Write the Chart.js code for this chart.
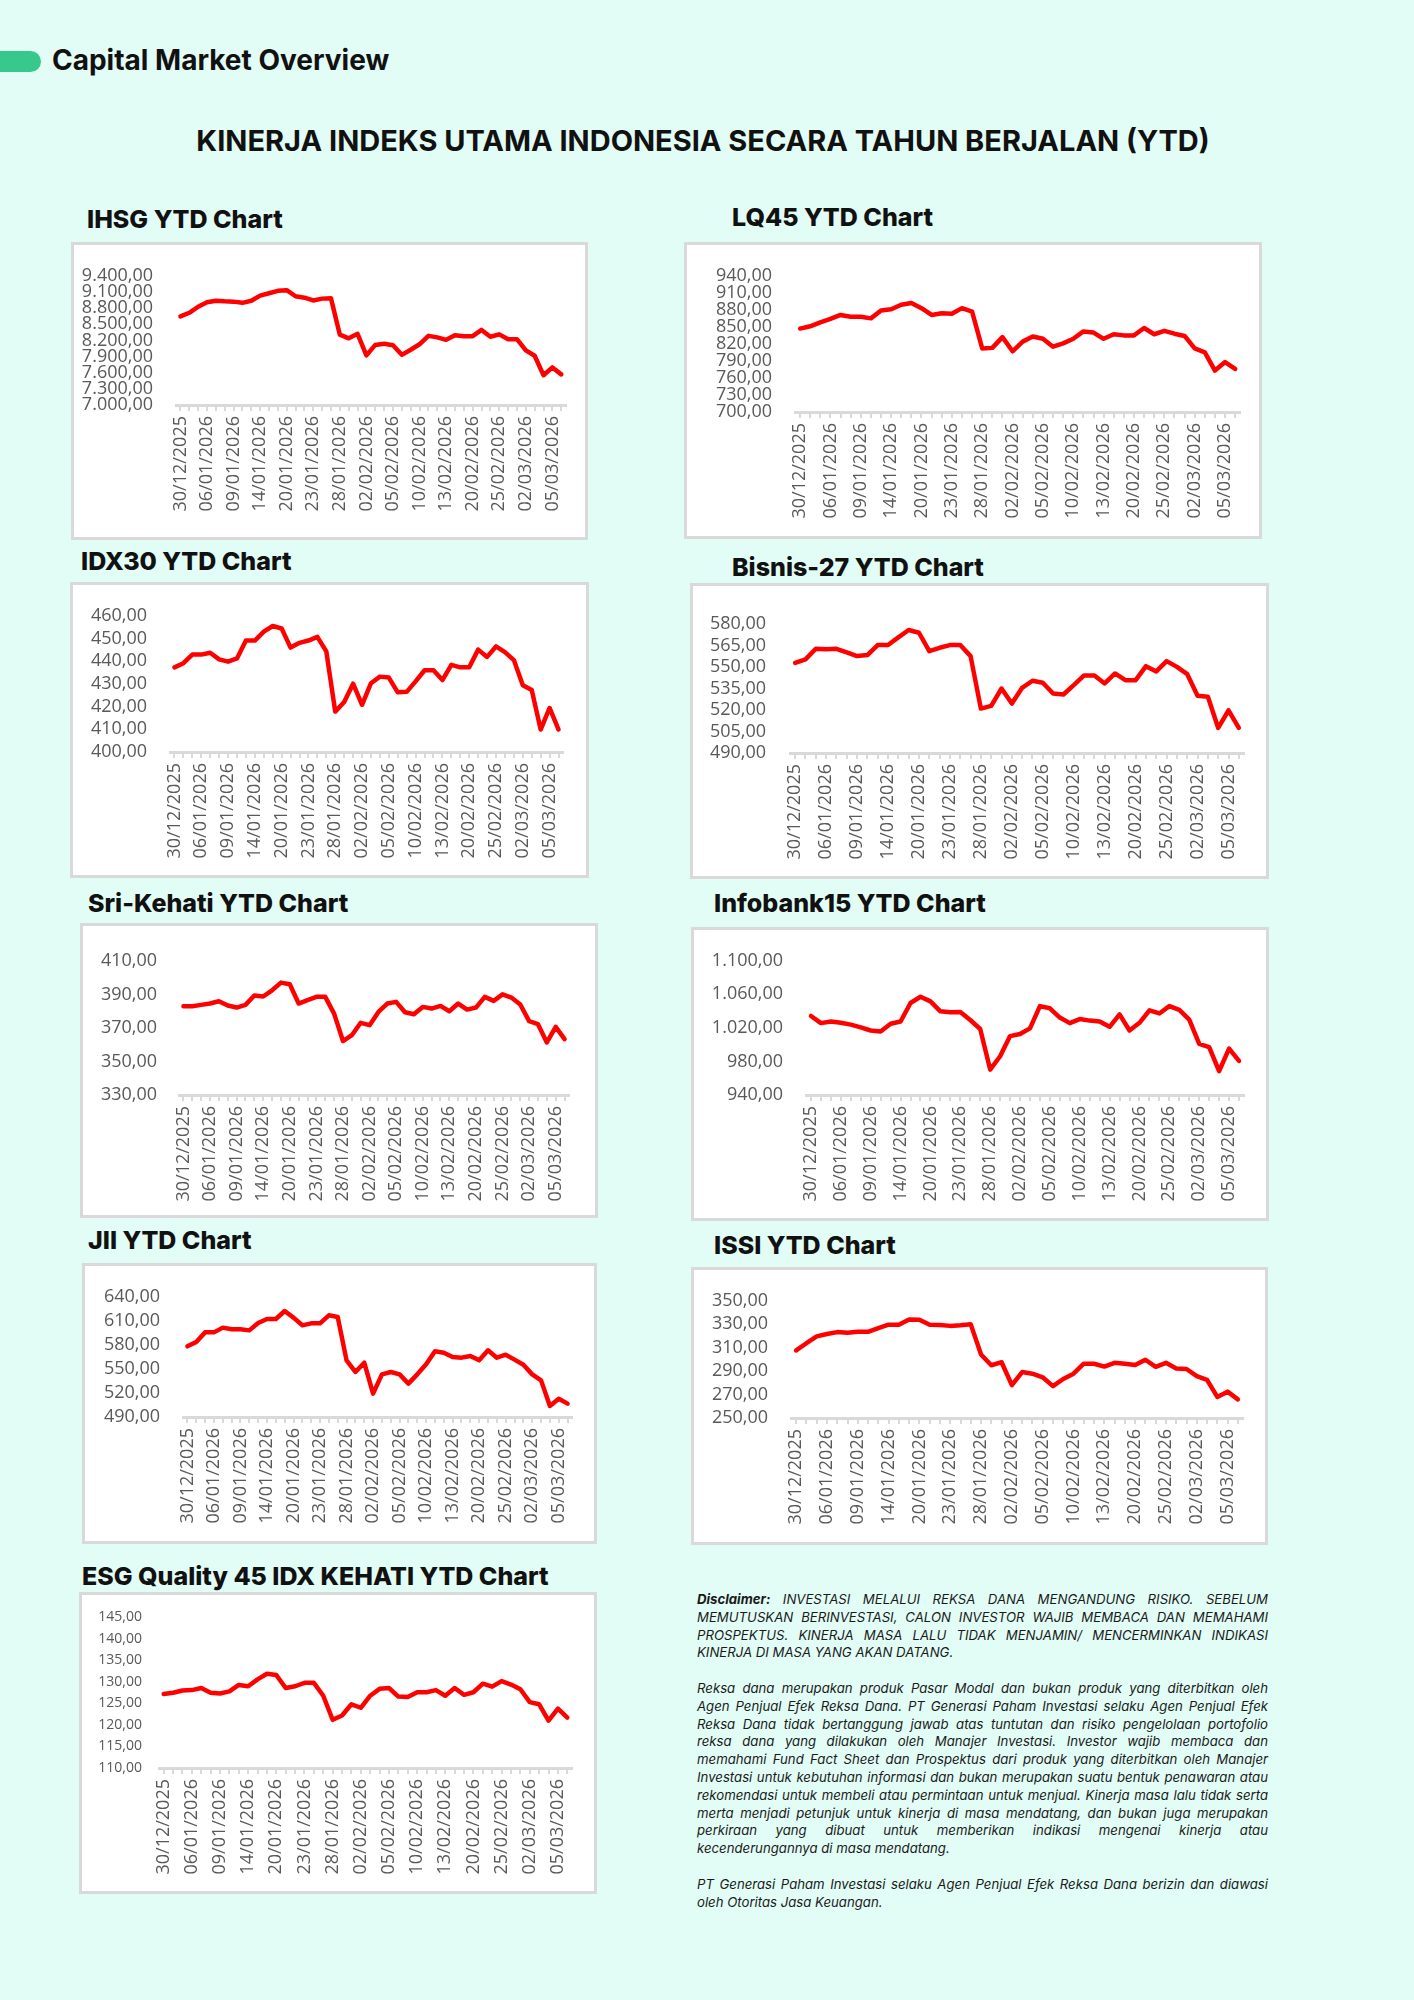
<!DOCTYPE html>
<html>
<head>
<meta charset="utf-8">
<script src="https://cdn.jsdelivr.net/npm/chart.js@4.4.1/dist/chart.umd.min.js"></script>
<style>
  html, body { margin: 0; padding: 0; }
  body { width: 1414px; height: 2000px; background: #e1fdf5; position: relative; overflow: hidden; font-family: Inter, "Noto Sans", sans-serif; color: #111; }
  .pill { position: absolute; left: 0; top: 51px; width: 41px; height: 21px; background: #36c98b; border-radius: 0 11px 11px 0; }
  .head { position: absolute; left: 52px; top: 46px; font-size: 28px; font-weight: 700; line-height: 28px; white-space: nowrap; }
  .main { position: absolute; left: 0; width: 1406px; top: 127px; text-align: center; font-size: 29px; font-weight: 700; line-height: 28px; white-space: nowrap; }
  .ptitle { position: absolute; font-size: 25px; font-weight: 800; line-height: 25px; white-space: nowrap; }
  .panel { position: absolute; box-sizing: border-box; background: #fff; border: 3px solid #d9d9d9; }
  .panel canvas { position: absolute; left: -3px; top: -3px; }
  .disc { position: absolute; left: 697px; top: 1591px; width: 571px; font-size: 13.2px; line-height: 17.8px; font-style: italic; color: #1a1a1a; }
  .disc div { white-space: nowrap; text-align: justify; text-align-last: justify; }
  .disc div.end { text-align-last: left; }
  .disc .gap { height: 17.8px; }
</style>
</head>
<body>
<div class="pill"></div>
<div class="head">Capital Market Overview</div>
<div class="main">KINERJA INDEKS UTAMA INDONESIA SECARA TAHUN BERJALAN (YTD)</div>

<div class="disc">
  <div><b>Disclaimer:</b> INVESTASI MELALUI REKSA DANA MENGANDUNG RISIKO. SEBELUM</div>
  <div>MEMUTUSKAN BERINVESTASI, CALON INVESTOR WAJIB MEMBACA DAN MEMAHAMI</div>
  <div>PROSPEKTUS. KINERJA MASA LALU TIDAK MENJAMIN/ MENCERMINKAN INDIKASI</div>
  <div class="end">KINERJA DI MASA YANG AKAN DATANG.</div>
  <div class="gap"></div>
  <div>Reksa dana merupakan produk Pasar Modal dan bukan produk yang diterbitkan oleh</div>
  <div>Agen Penjual Efek Reksa Dana. PT Generasi Paham Investasi selaku Agen Penjual Efek</div>
  <div>Reksa Dana tidak bertanggung jawab atas tuntutan dan risiko pengelolaan portofolio</div>
  <div>reksa dana yang dilakukan oleh Manajer Investasi. Investor wajib membaca dan</div>
  <div>memahami Fund Fact Sheet dan Prospektus dari produk yang diterbitkan oleh Manajer</div>
  <div>Investasi untuk kebutuhan informasi dan bukan merupakan suatu bentuk penawaran atau</div>
  <div>rekomendasi untuk membeli atau permintaan untuk menjual. Kinerja masa lalu tidak serta</div>
  <div>merta menjadi petunjuk untuk kinerja di masa mendatang, dan bukan juga merupakan</div>
  <div>perkiraan yang dibuat untuk memberikan indikasi mengenai kinerja atau</div>
  <div class="end">kecenderungannya di masa mendatang.</div>
  <div class="gap"></div>
  <div>PT Generasi Paham Investasi selaku Agen Penjual Efek Reksa Dana berizin dan diawasi</div>
  <div class="end">oleh Otoritas Jasa Keuangan.</div>
</div>

<script>
// tanggal perdagangan (hanya tiap label ke-3 yang tampil)
const dates = [
  "30/12/2025", "02/01/2026", "05/01/2026", "06/01/2026", "07/01/2026", "08/01/2026", "09/01/2026",
  "12/01/2026", "13/01/2026", "14/01/2026", "15/01/2026", "19/01/2026", "20/01/2026", "21/01/2026",
  "22/01/2026", "23/01/2026", "26/01/2026", "27/01/2026", "28/01/2026", "29/01/2026", "30/01/2026",
  "02/02/2026", "03/02/2026", "04/02/2026", "05/02/2026", "06/02/2026", "09/02/2026", "10/02/2026",
  "11/02/2026", "12/02/2026", "13/02/2026", "18/02/2026", "19/02/2026", "20/02/2026", "23/02/2026",
  "24/02/2026", "25/02/2026", "26/02/2026", "27/02/2026", "02/03/2026", "03/03/2026", "04/03/2026",
  "05/03/2026", "06/03/2026"
];

const ihsgValues = [8647, 8713, 8825, 8909, 8937, 8926, 8920, 8898, 8937, 9032, 9076, 9121, 9132, 9020, 8993,
  8942, 8976, 8981, 8306, 8239, 8323, 7921, 8116, 8139, 8111, 7932, 8027, 8128, 8284, 8256, 8211, 8295, 8278,
  8278, 8395, 8267, 8312, 8222, 8222, 8016, 7915, 7553, 7698, 7569];
const ihsgTicks = [7000, 7300, 7600, 7900, 8200, 8500, 8800, 9100, 9400];

const lq45Values = [847, 851, 858, 864, 871, 868, 868, 865, 879, 881, 889, 892, 883, 871, 874, 873, 883, 877,
  812, 813, 832, 807, 824, 833, 829, 815, 821, 829, 842, 840, 829, 837, 835, 835, 848, 837, 843, 838, 834,
  812, 805, 773, 788, 776];
const lq45Ticks = [700, 730, 760, 790, 820, 850, 880, 910, 940];

const idx30Values = [437.3, 439.1, 442.9, 442.9, 443.7, 440.8, 439.8, 441.2, 449.1, 449.1, 453.0, 455.5, 454.4,
  446.0, 448.1, 449.1, 450.7, 444.3, 417.8, 422.0, 430.1, 420.8, 430.3, 433.2, 432.8, 426.3, 426.5, 431.1,
  436.0, 436.0, 431.7, 438.4, 437.3, 437.3, 445.1, 441.9, 446.5, 444.0, 440.5, 429.4, 427.3, 409.9, 419.4, 409.9];
const idx30Ticks = [400, 410, 420, 430, 440, 450, 460];

const bisnis27Values = [552.9, 555.3, 562.7, 562.3, 562.7, 560.2, 557.6, 558.3, 565.3, 565.3, 570.7, 575.8, 573.9,
  561.1, 563.4, 565.3, 565.3, 557.6, 521.0, 522.9, 535.0, 524.5, 535.5, 540.4, 539.0, 531.5, 530.8, 537.3,
  544.1, 544.1, 538.5, 545.5, 540.8, 540.8, 550.6, 546.9, 554.1, 550.1, 545.0, 529.9, 529.2, 507.5, 519.8, 507.5];
const bisnis27Ticks = [490, 505, 520, 535, 550, 565, 580];

const sriKehatiValues = [383.0, 383.0, 383.8, 384.6, 386.0, 383.4, 382.2, 383.8, 389.4, 388.8, 392.5, 397.1, 396.1,
  384.6, 386.6, 388.6, 388.6, 378.6, 362.2, 365.7, 373.1, 371.7, 379.6, 384.6, 385.6, 379.4, 378.2, 382.6,
  381.6, 383.2, 380.0, 384.6, 381.0, 382.2, 388.6, 386.2, 390.1, 388.2, 384.0, 374.1, 372.3, 361.4, 370.7, 363.4];
const sriKehatiTicks = [330, 350, 370, 390, 410];

const infobank15Values = [1034.2, 1025.7, 1027.6, 1026.1, 1023.9, 1020.6, 1016.9, 1015.8, 1025.0, 1027.6, 1049.7,
  1057.1, 1051.6, 1039.8, 1038.7, 1039.0, 1029.4, 1018.7, 970.3, 986.2, 1010.2, 1012.8, 1019.4, 1046.0, 1043.4,
  1032.3, 1025.7, 1030.5, 1028.7, 1027.6, 1021.3, 1036.1, 1016.9, 1026.1, 1040.9, 1037.2, 1046.0, 1041.6,
  1029.8, 1000.9, 997.2, 968.4, 995.4, 980.6];
const infobank15Ticks = [940, 980, 1020, 1060, 1100];

const jiiValues = [578.3, 583.8, 595.8, 595.8, 601.7, 599.6, 599.6, 598.3, 607.5, 612.5, 612.5, 622.5, 614.2, 604.6,
  607.1, 607.1, 617.1, 615.0, 560.8, 546.3, 557.9, 519.2, 543.3, 546.3, 543.3, 531.7, 543.3, 555.8, 572.1,
  570.4, 565.0, 564.2, 566.3, 560.8, 573.3, 564.2, 567.9, 561.7, 555.4, 543.3, 535.8, 503.8, 512.9, 506.7];
const jiiTicks = [490, 520, 550, 580, 610, 640];

const issiValues = [307.7, 313.8, 319.6, 321.7, 323.3, 322.8, 323.5, 323.5, 326.7, 329.6, 329.6, 334.1, 333.9, 329.6,
  329.4, 328.6, 329.1, 329.9, 304.2, 295.0, 297.6, 278.0, 289.2, 287.8, 284.7, 277.2, 283.3, 287.8, 296.3,
  296.3, 293.9, 297.1, 296.3, 295.2, 299.7, 293.7, 297.1, 292.3, 291.8, 285.7, 282.5, 268.0, 272.5, 265.9];
const issiTicks = [250, 270, 290, 310, 330, 350];

const esgValues = [127.2, 127.5, 128.0, 128.1, 128.6, 127.5, 127.3, 127.8, 129.3, 129.0, 130.6, 131.9, 131.6, 128.6,
  129.0, 129.8, 129.8, 126.8, 121.2, 122.2, 124.8, 124.0, 126.8, 128.4, 128.6, 126.6, 126.5, 127.6, 127.6,
  128.1, 126.8, 128.6, 127.0, 127.6, 129.6, 128.9, 130.2, 129.4, 128.3, 125.3, 124.8, 121.0, 123.8, 121.7];
const esgTicks = [110, 115, 120, 125, 130, 135, 140, 145];

// posisi panel di halaman (px)
const panels = [
  { title: "IHSG YTD Chart", values: ihsgValues, ticks: ihsgTicks, tx: 87, tb: 229, L: 71, T: 242, R: 588, B: 540, axL: 176, axR: 574, top: 261, axY: 405, pad: 23, fs: 18 },
  { title: "LQ45 YTD Chart", values: lq45Values, ticks: lq45Ticks, tx: 732, tb: 227, L: 684, T: 242, R: 1262, B: 539, axL: 795, axR: 1243, top: 261, axY: 412, pad: 23, fs: 18 },
  { title: "IDX30 YTD Chart", values: idx30Values, ticks: idx30Ticks, tx: 81, tb: 571, L: 70, T: 582, R: 589, B: 878, axL: 170, axR: 563, top: 608, axY: 752, pad: 23, fs: 18 },
  { title: "Bisnis-27 YTD Chart", values: bisnis27Values, ticks: bisnis27Ticks, tx: 732, tb: 577, L: 690, T: 583, R: 1269, B: 879, axL: 790, axR: 1244, top: 624, axY: 753, pad: 24, fs: 18 },
  { title: "Sri-Kehati YTD Chart", values: sriKehatiValues, ticks: sriKehatiTicks, tx: 88, tb: 913, L: 80, T: 923, R: 598, B: 1218, axL: 179, axR: 569, top: 961, axY: 1095, pad: 22, fs: 18 },
  { title: "Infobank15 YTD Chart", values: infobank15Values, ticks: infobank15Ticks, tx: 714, tb: 913, L: 691, T: 927, R: 1269, B: 1221, axL: 806, axR: 1244, top: 951, axY: 1095, pad: 23, fs: 18 },
  { title: "JII YTD Chart", values: jiiValues, ticks: jiiTicks, tx: 88, tb: 1250, L: 82, T: 1263, R: 597, B: 1544, axL: 183, axR: 572, top: 1297, axY: 1417, pad: 23, fs: 18 },
  { title: "ISSI YTD Chart", values: issiValues, ticks: issiTicks, tx: 714, tb: 1255, L: 691, T: 1267, R: 1268, B: 1545, axL: 791, axR: 1243, top: 1292, axY: 1418, pad: 23, fs: 18 },
  { title: "ESG Quality 45 IDX KEHATI YTD Chart", values: esgValues, ticks: esgTicks, tx: 82, tb: 1586, L: 79, T: 1592, R: 597, B: 1894, axL: 159, axR: 572, top: 1617, axY: 1768, pad: 17, fs: 14 }
];

// format angka gaya Indonesia: 9.400,00
const fmt = (v) => {
  const parts = Number(v).toFixed(2).split(".");
  return parts[0].replace(/\B(?=(\d{3})+(?!\d))/g, ".") + "," + parts[1];
};

panels.forEach((p) => {
  const t = document.createElement("div");
  t.className = "ptitle";
  t.style.left = p.tx + "px";
  t.style.top = (p.tb - 22) + "px";
  t.textContent = p.title;
  document.body.appendChild(t);

  const box = document.createElement("div");
  box.className = "panel";
  const w = p.R - p.L, h = p.B - p.T;
  box.style.left = p.L + "px";
  box.style.top = p.T + "px";
  box.style.width = w + "px";
  box.style.height = h + "px";
  const cv = document.createElement("canvas");
  cv.width = w;
  cv.height = h;
  cv.style.width = w + "px";
  cv.style.height = h + "px";
  box.appendChild(cv);
  document.body.appendChild(box);

  new Chart(cv.getContext("2d"), {
    type: "line",
    data: {
      labels: dates,
      datasets: [{
        data: p.values,
        borderColor: "#ff0000",
        borderWidth: 4.5,
        pointRadius: 0,
        tension: 0,
        borderJoinStyle: "round",
        borderCapStyle: "round"
      }]
    },
    options: {
      responsive: false,
      animation: false,
      layout: { padding: { top: p.top - p.T, right: p.R - p.axR, left: 0, bottom: 0 } },
      plugins: { legend: { display: false }, tooltip: { enabled: false } },
      scales: {
        x: {
          offset: true,
          afterFit: (s) => { s.height = p.B - p.axY; },
          border: { display: true, color: "#d9d9d9", width: 3 },
          grid: { display: true, drawOnChartArea: false, drawTicks: true, tickLength: 6, color: "#d9d9d9", lineWidth: 2 },
          ticks: {
            autoSkip: false,
            maxRotation: 90,
            minRotation: 90,
            padding: 5,
            color: "#595959",
            font: { family: "'Open Sans'", size: 18 },
            callback: (val, i) => (i % 3 === 0 ? dates[i] : "")
          }
        },
        y: {
          min: p.ticks[0],
          max: p.ticks[p.ticks.length - 1],
          afterFit: (s) => { s.width = p.axL - p.L; },
          afterBuildTicks: (s) => { s.ticks = p.ticks.map((v) => ({ value: v })); },
          border: { display: false },
          grid: { display: false, drawTicks: false },
          ticks: {
            autoSkip: false,
            stepSize: p.ticks[1] - p.ticks[0],
            padding: p.pad,
            color: "#595959",
            font: { family: "'Open Sans'", size: p.fs },
            callback: (v) => fmt(v)
          }
        }
      }
    }
  });
});
</script>
</body>
</html>
